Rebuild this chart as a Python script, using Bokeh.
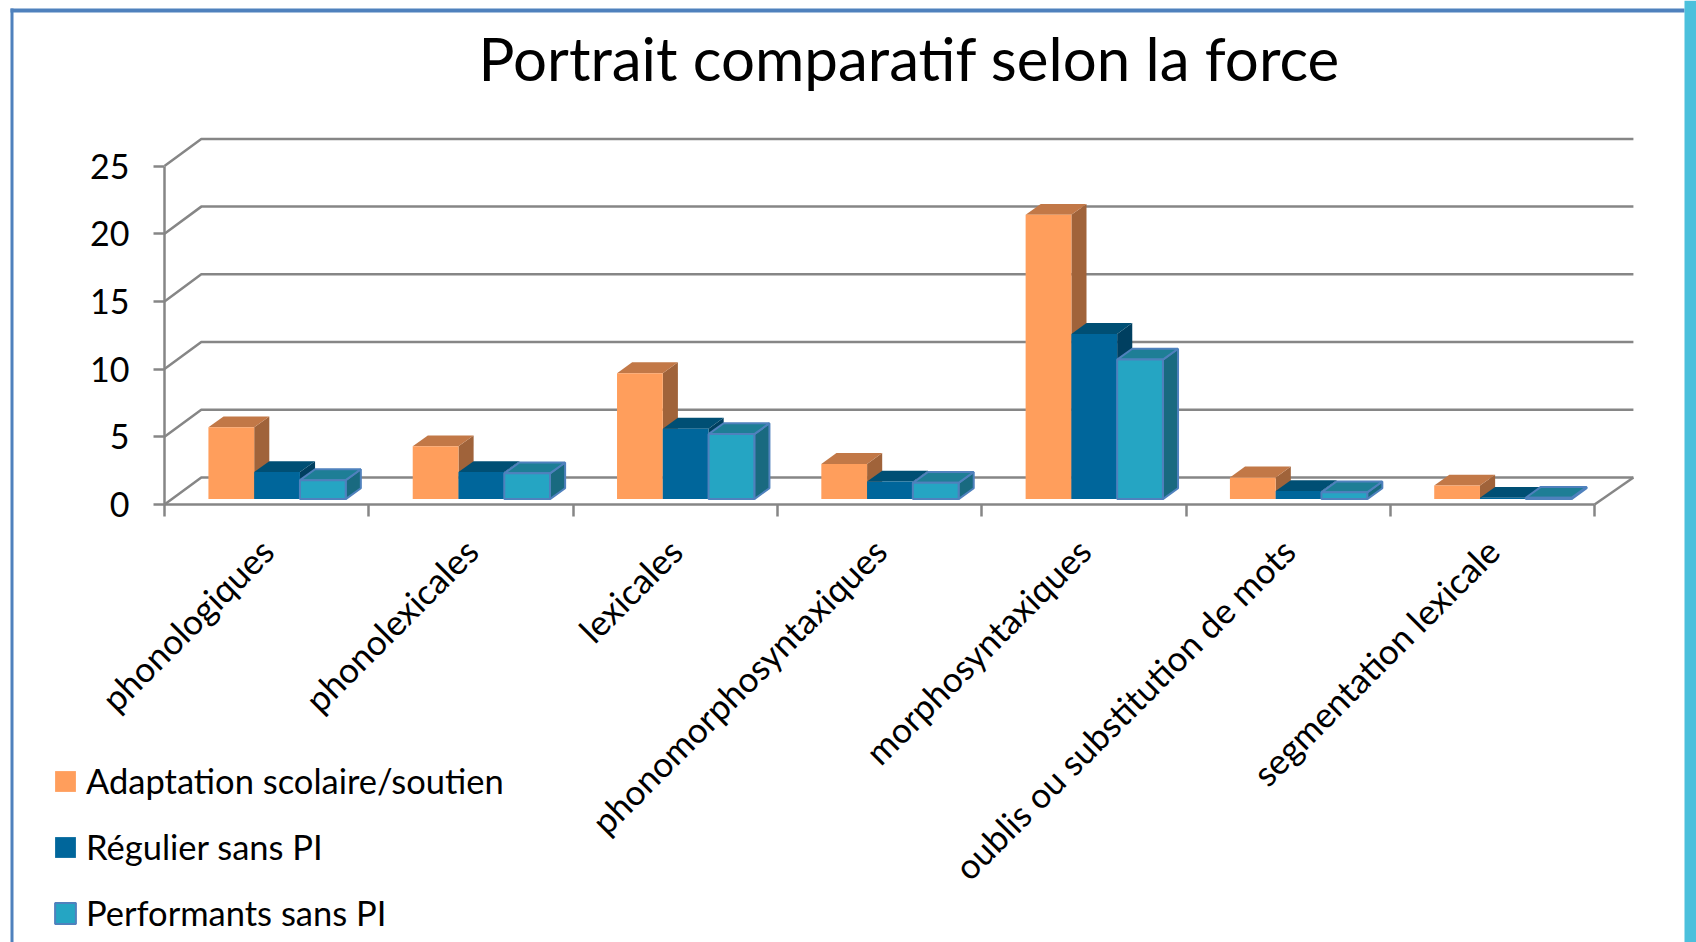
import math
from bokeh.embed import file_html
from bokeh.resources import INLINE
from bokeh.plotting import figure
from bokeh.models import (Range1d, FixedTicker, Legend, LegendItem, BoxAnnotation, Label)

categories = ["phonologiques", "phonolexicales", "lexicales", "phonomorphosyntaxiques",
              "morphosyntaxiques", "oublis ou substitution de mots", "segmentation lexicale"]
series_names = ["Adaptation scolaire/soutien", "Régulier sans PI", "Performants sans PI"]
adaptation = [5.3, 3.9, 9.3, 2.6, 21.0, 1.6, 1.0]
regulier = [2.0, 2.0, 5.2, 1.3, 12.2, 0.6, 0.1]
performants = [1.4, 1.9, 4.8, 1.2, 10.3, 0.5, 0.1]
y_ticks = [0, 5, 10, 15, 20, 25]

FRONT = ["#FF9E5C", "#00669B", "#25A5C3"]
TOP = ["#C27847", "#004F74", "#1E7E96"]
SIDE = ["#A0633A", "#003F60", "#196A80"]
EDGE = [None, None, "#4F81BD"]
GRID = "#868686"
FONT = "Lato"

W, H = 1696, 942
X0, Y0 = 164.0, 504.0   # pixel position of the front corner of the axes
PX_X = 204.3
PX_Y = 13.54
n = len(categories)

p = figure(width=W, height=H, output_backend="svg", toolbar_location=None,
           x_range=Range1d(-X0 / PX_X, (W - X0) / PX_X),
           y_range=Range1d(-(H - Y0) / PX_Y, Y0 / PX_Y),
           min_border=0, background_fill_color="white", border_fill_color="white",
           outline_line_color=None)
p.grid.visible = False

p.add_layout(Label(x=909, y=H - 57, x_units="screen", y_units="screen",
                   text="Portrait comparatif selon la force", text_font=FONT,
                   text_font_size="60px", text_color="black",
                   text_align="center", text_baseline="middle"))

# wall and floor lines
DXL, DX, DY = 0.18, 0.19, 2.0
xs = [[0, DXL, n + DX] for _ in y_ticks] + [[n, n + DX]]
ys = [[v, v + DY, v + DY] for v in y_ticks] + [[0, DY]]
p.multi_line(xs, ys, line_color=GRID, line_width=2.5)

# axes
ya = p.yaxis[0]
ya.fixed_location = 0
ya.ticker = FixedTicker(ticks=y_ticks)
ya.bounds = (0, 25)
ya.axis_line_color = GRID
ya.axis_line_width = 2.5
ya.major_tick_line_color = GRID
ya.major_tick_line_width = 2.5
ya.major_tick_in = 0
ya.major_tick_out = 11
ya.minor_tick_line_color = None
ya.major_label_text_font = FONT
ya.major_label_text_font_size = "34px"
ya.major_label_text_color = "black"
ya.major_label_standoff = 24

xa = p.xaxis[0]
xa.fixed_location = 0
xa.ticker = FixedTicker(ticks=[i + 0.5 for i in range(n)], minor_ticks=list(range(n + 1)))
xa.major_label_overrides = {i + 0.5: c for i, c in enumerate(categories)}
xa.bounds = (0, n)
xa.axis_line_color = GRID
xa.axis_line_width = 2.5
xa.major_tick_line_color = None
xa.major_tick_in = 0
xa.major_tick_out = 0
xa.minor_tick_line_color = GRID
xa.minor_tick_line_width = 2.5
xa.minor_tick_in = 0
xa.minor_tick_out = 12
xa.major_label_orientation = math.pi / 4
xa.major_label_text_font = FONT
xa.major_label_text_font_size = "35px"
xa.major_label_text_color = "black"
xa.major_label_standoff = 28

# 3-D bars
START, BAR, BASE, DEPTH_X, DEPTH_Y = 0.215, 0.224, 0.4, 0.074, 0.8
renderers = []
for s, values in enumerate([adaptation, regulier, performants]):
    lefts = [i + START + s * BAR for i in range(n)]
    rights = [l + BAR for l in lefts]
    tops = [BASE + v for v in values]
    lw = 2 if EDGE[s] else 0
    lc = EDGE[s] if EDGE[s] else None
    p.patches([[r, r + DEPTH_X, r + DEPTH_X, r] for r in rights],
              [[BASE, BASE + DEPTH_Y, t + DEPTH_Y, t] for t in tops],
              fill_color=SIDE[s], line_color=lc, line_width=lw)
    p.patches([[l, l + DEPTH_X, r + DEPTH_X, r] for l, r in zip(lefts, rights)],
              [[t, t + DEPTH_Y, t + DEPTH_Y, t] for t in tops],
              fill_color=TOP[s], line_color=lc, line_width=lw)
    renderers.append(p.quad(left=lefts, right=rights, bottom=[BASE] * n, top=tops,
                            fill_color=FRONT[s], line_color=lc, line_width=lw))

legend = Legend(items=[LegendItem(label=nm, renderers=[r]) for nm, r in zip(series_names, renderers)],
                location=(52, 9), orientation="vertical",
                background_fill_alpha=0, border_line_color=None,
                glyph_width=26, glyph_height=26, label_standoff=8, spacing=25, padding=0, margin=0,
                label_text_font=FONT, label_text_font_size="34.5px", label_text_color="black")
p.add_layout(legend, "center")

# slide frame (screen y counts from the bottom)
BLUE = "#4F81BD"
for l, r, b, t, c in [(10, 13, 0, H - 8, BLUE), (10, 1684, H - 12, H - 8, BLUE), (1684, W, 0, H, "#4BC0DC")]:
    p.add_layout(BoxAnnotation(left=l, right=r, top=t, bottom=b,
                               left_units="screen", right_units="screen",
                               top_units="screen", bottom_units="screen",
                               fill_color=c, fill_alpha=1, line_color=None, level="overlay"))

open("out.html", "w").write(file_html(p, INLINE))
